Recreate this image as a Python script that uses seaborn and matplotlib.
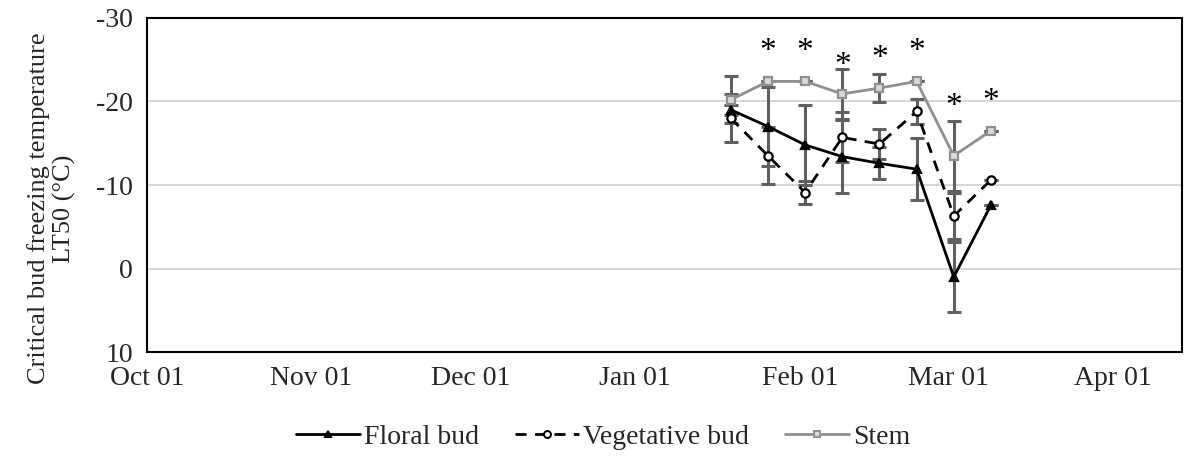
import matplotlib
matplotlib.use("Agg")
import matplotlib.pyplot as plt
import seaborn as sns
import pandas as pd
import numpy as np

# ---- data ----
dates = ["2021-01-19", "2021-01-26", "2021-02-02", "2021-02-09",
         "2021-02-16", "2021-02-23", "2021-03-02", "2021-03-09"]
floral = [-19.0, -17.0, -14.8, -13.4, -12.6, -11.9, 1.0, -7.6]
floral_err = [0.6, 4.7, 4.8, 4.4, 1.9, 3.7, 4.2, 0.0]
vegetative = [-18.0, -13.5, -9.1, -15.7, -14.9, -18.8, -6.3, -10.6]
vegetative_err = [2.9, 3.4, 1.4, 3.0, 1.8, 1.5, 2.8, 0.0]
stem = [-20.2, -22.4, -22.4, -20.9, -21.6, -22.4, -13.5, -16.5]
stem_err = [2.8, 0.0, 0.0, 3.0, 1.7, 0.0, 4.2, 0.0]
star_dates = ["2021-01-26", "2021-02-02", "2021-02-09", "2021-02-16",
              "2021-02-23", "2021-03-02", "2021-03-09"]
star_y = [-26.6, -26.6, -24.9, -25.7, -26.6, -20.0, -20.6]
month_ticks = ["2020-10-01", "2020-11-01", "2020-12-01", "2021-01-01",
               "2021-02-01", "2021-03-01", "2021-04-01"]
month_labels = ["Oct 01", "Nov 01", "Dec 01", "Jan 01", "Feb 01", "Mar 01", "Apr 01"]

sns.set_style("white")
plt.rcParams["font.family"] = ["Liberation Serif", "DejaVu Serif"]
plt.rcParams["axes.unicode_minus"] = False
FS = 20

x = pd.to_datetime(dates)
df = pd.DataFrame({
    "date": np.tile(x, 3),
    "value": floral + vegetative + stem,
    "series": ["Floral bud"] * 8 + ["Vegetative bud"] * 8 + ["Stem"] * 8,
})

fig = plt.figure(figsize=(11.94, 4.58), dpi=100)
ax = fig.add_axes([0.123, 0.231, 0.867, 0.730])

err_color = "#606060"
for vals, errs in [(stem, stem_err), (vegetative, vegetative_err), (floral, floral_err)]:
    ax.errorbar(x, vals, yerr=errs, fmt="none", ecolor=err_color,
                elinewidth=2.2, capsize=5, capthick=2.2, zorder=2)

styles = {
    "Floral bud": dict(color="black", linestyle="-", marker="^", mfc="black",
                       mec="black", ms=6),
    "Vegetative bud": dict(color="black", linestyle=(0, (4, 3)), marker="o",
                           mfc="white", mec="black", ms=6),
    "Stem": dict(color="#8f8f8f", linestyle="-", marker="s", mfc="#d9d9d9",
                 mec="#8f8f8f", ms=6),
}
handles = []
for name in ["Floral bud", "Vegetative bud", "Stem"]:
    st = styles[name]
    sub = df[df["series"] == name]
    sns.lineplot(data=sub, x="date", y="value", ax=ax, color=st["color"],
                 linestyle=st["linestyle"], marker=st["marker"],
                 markerfacecolor=st["mfc"], markeredgecolor=st["mec"],
                 markeredgewidth=1.6, markersize=st["ms"], linewidth=2.0,
                 label=name, zorder=3, legend=False)
    h, = ax.plot([], [], color=st["color"], linestyle=st["linestyle"],
                 marker=st["marker"], markerfacecolor=st["mfc"],
                 markeredgecolor=st["mec"], markersize=5, markeredgewidth=1.4,
                 linewidth=2.0, label=name)
    handles.append(h)

for d, yv in zip(pd.to_datetime(star_dates), star_y):
    ax.text(d, yv + 0.6, "*", ha="center", va="center", fontsize=24, color="black")

ax.set_ylim(10, -30)
ax.set_yticks([-30, -20, -10, 0, 10])
ax.set_xlim(pd.Timestamp("2020-10-01"), pd.Timestamp("2021-04-14"))
ax.set_xticks(pd.to_datetime(month_ticks))
ax.set_xticklabels(month_labels)
ax.tick_params(axis="both", labelsize=FS, direction="out", length=7, width=1.5,
               color="black", pad=3)
ax.yaxis.grid(True, color="#d3d3d3", linewidth=1.3)
ax.xaxis.grid(False)
for s in ax.spines.values():
    s.set_color("black")
    s.set_linewidth(1.5)
ax.set_xlabel("")
ax.set_ylabel("Critical bud freezing temperature\nLT50 (°C)", fontsize=19,
              linespacing=1.2)
ax.yaxis.set_label_coords(-0.068, 0.43)

fig.legend(handles=handles, loc="center", bbox_to_anchor=(0.505, 0.045), ncol=3,
           frameon=False, fontsize=FS, handlelength=2.3, handletextpad=0.15,
           columnspacing=1.3)

fig.savefig("out.png", dpi=100)
